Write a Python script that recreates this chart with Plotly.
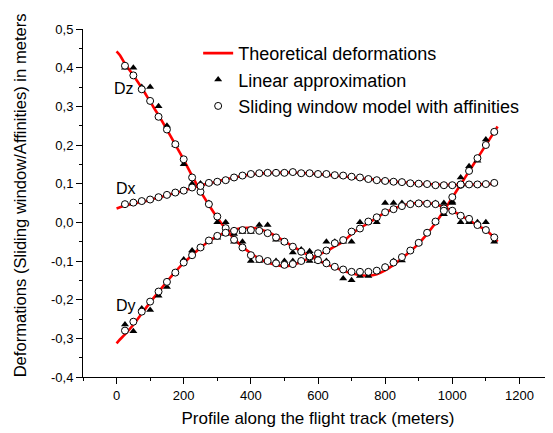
import plotly.graph_objects as go

# ---------------- data ----------------
x_pts = [25, 50, 75, 100, 125, 150, 175, 200, 225, 250, 275, 300, 325, 350, 375, 400,
         425, 450, 475, 500, 525, 550, 575, 600, 625, 650, 675, 700, 725, 750, 775, 800,
         825, 850, 875, 900, 925, 950, 975, 1000, 1025, 1050, 1075, 1100, 1125]

x_theo = [0, 10, 25, 50, 75, 100, 125, 150, 175, 200, 225, 250, 275, 300, 325, 350, 375, 400,
          425, 450, 475, 500, 525, 550, 575, 600, 625, 650, 675, 700, 725, 750, 775, 800,
          825, 850, 875, 900, 925, 950, 975, 1000, 1025, 1050, 1075, 1100, 1125, 1135]

dz_theo = [0.442, 0.432, 0.41, 0.38, 0.348, 0.312, 0.277, 0.24, 0.201, 0.162, 0.12, 0.08, 0.045,
           0.012, -0.017, -0.042, -0.063, -0.08, -0.094, -0.104, -0.11, -0.113, -0.11, -0.102,
           -0.092, -0.084, -0.075, -0.062, -0.05, -0.03, -0.015, -0.002, 0.012, 0.025, 0.035,
           0.043, 0.048, 0.05, 0.05, 0.046, 0.039, 0.03, 0.018, 0.006, -0.008, -0.02, -0.04, -0.05]
dx_theo = [0.036, 0.039, 0.043, 0.048, 0.053, 0.058, 0.064, 0.07, 0.076, 0.082, 0.089, 0.095, 0.101,
           0.106, 0.111, 0.116, 0.12, 0.124, 0.126, 0.128, 0.129, 0.129, 0.129, 0.128, 0.127,
           0.125, 0.123, 0.121, 0.119, 0.117, 0.114, 0.112, 0.11, 0.108, 0.106, 0.104, 0.102,
           0.1, 0.099, 0.098, 0.097, 0.097, 0.097, 0.098, 0.098, 0.099, 0.1, 0.1]
dy_theo = [-0.313, -0.303, -0.29, -0.265, -0.236, -0.207, -0.18, -0.153, -0.128, -0.105, -0.085,
           -0.066, -0.049, -0.036, -0.026, -0.019, -0.015, -0.014, -0.017, -0.025, -0.036, -0.049,
           -0.062, -0.075, -0.087, -0.098, -0.108, -0.117, -0.125, -0.132, -0.137, -0.138, -0.134,
           -0.124, -0.11, -0.093, -0.075, -0.055, -0.03, -0.002, 0.03, 0.064, 0.098, 0.132, 0.166,
           0.2, 0.234, 0.248]

dz_lin = [0.40, 0.40, 0.35, 0.35, 0.30, 0.25, 0.20, 0.15, 0.10, 0.10, 0.05, 0.0, 0.0, -0.05, -0.05,
          -0.10, -0.10, -0.10, -0.10, -0.10, -0.10, -0.10, -0.10, -0.10, -0.05, -0.05, -0.05,
          -0.05, 0.0, 0.0, 0.0, 0.05, 0.05, 0.05, 0.05, 0.05, 0.05, 0.05, 0.05, 0.05, 0.0, 0.0,
          0.0, 0.0, -0.05]
dx_lin = [0.047, 0.051, 0.055, 0.059, 0.065, 0.071, 0.077, 0.082, 0.090, 0.100, 0.102, 0.105, 0.109,
          0.116, 0.121, 0.125, 0.127, 0.128, 0.128, 0.128, 0.130, 0.127, 0.127, 0.125, 0.125,
          0.122, 0.121, 0.118, 0.116, 0.112, 0.109, 0.107, 0.105, 0.104, 0.101, 0.100, 0.099,
          0.096, 0.096, 0.096, 0.097, 0.098, 0.098, 0.099, 0.102]
dy_lin = [-0.264, -0.282, -0.223, -0.227, -0.190, -0.167, -0.130, -0.096, -0.073, -0.065, -0.050,
          -0.040, -0.030, -0.030, -0.025, -0.025, -0.007, -0.007, -0.045, -0.050, -0.078, -0.070,
          -0.075, -0.100, -0.100, -0.115, -0.145, -0.150, -0.139, -0.139, -0.125, -0.115, -0.100,
          -0.099, -0.073, -0.053, -0.027, 0.0, 0.021, 0.053, 0.116, 0.145, 0.159, 0.214, 0.234]

dz_sw = [0.405, 0.380, 0.344, 0.314, 0.273, 0.240, 0.202, 0.163, 0.116, 0.079, 0.047, 0.015, -0.015,
         -0.045, -0.065, -0.085, -0.095, -0.100, -0.106, -0.110, -0.108, -0.100, -0.090, -0.080,
         -0.073, -0.054, -0.046, -0.024, -0.016, 0.002, 0.013, 0.026, 0.034, 0.042, 0.047, 0.049,
         0.048, 0.047, 0.036, 0.030, 0.017, 0.009, -0.007, -0.020, -0.039]
dx_sw = [0.047, 0.051, 0.055, 0.059, 0.065, 0.071, 0.077, 0.082, 0.090, 0.094, 0.102, 0.105, 0.109,
         0.116, 0.121, 0.125, 0.127, 0.128, 0.128, 0.128, 0.130, 0.127, 0.127, 0.125, 0.125,
         0.122, 0.121, 0.118, 0.116, 0.112, 0.109, 0.107, 0.105, 0.104, 0.101, 0.100, 0.099,
         0.096, 0.096, 0.096, 0.097, 0.098, 0.098, 0.099, 0.102]
dy_sw = [-0.280, -0.257, -0.231, -0.205, -0.179, -0.154, -0.130, -0.104, -0.085, -0.065, -0.047,
         -0.035, -0.027, -0.022, -0.020, -0.020, -0.022, -0.028, -0.039, -0.050, -0.063, -0.076,
         -0.088, -0.098, -0.106, -0.115, -0.122, -0.128, -0.128, -0.128, -0.125, -0.116, -0.104,
         -0.090, -0.073, -0.053, -0.027, 0.002, 0.030, 0.065, 0.098, 0.133, 0.166, 0.200, 0.234]

x_ticks = [0, 200, 400, 600, 800, 1000, 1200]
y_ticks = [-0.4, -0.3, -0.2, -0.1, 0.0, 0.1, 0.2, 0.3, 0.4, 0.5]
y_tick_text = ["-0,4", "-0,3", "-0,2", "-0,1", "0,0", "0,1", "0,2", "0,3", "0,4", "0,5"]

curve_labels = ["Dz", "Dx", "Dy"]
label_x = [22, 27, 27]
label_y = [0.347, 0.087, -0.214]

# ---------------- figure ----------------
# (the page body has an 8px default margin, so the figure is 8px smaller in each direction)
FONT = "Liberation Sans, Arial, sans-serif"
RED = "#ff0000"
fig = go.Figure()

for i, yv in enumerate([dz_theo, dx_theo, dy_theo]):
    fig.add_trace(go.Scatter(
        x=x_theo, y=yv, mode="lines", line=dict(color=RED, width=2.6, shape="spline", smoothing=0.6),
        name="Theoretical deformations", legendgroup="theo", showlegend=(i == 0)))

for i, yv in enumerate([dz_lin, dx_lin, dy_lin]):
    fig.add_trace(go.Scatter(
        x=x_pts, y=yv, mode="markers",
        marker=dict(symbol="triangle-up", size=7, color="black", line=dict(width=0)),
        name="Linear approximation", legendgroup="lin", showlegend=(i == 0)))

for i, yv in enumerate([dz_sw, dx_sw, dy_sw]):
    fig.add_trace(go.Scatter(
        x=x_pts, y=yv, mode="markers",
        marker=dict(symbol="circle", size=7, color="white", line=dict(width=1, color="black")),
        name="Sliding window model with affinities", legendgroup="sw", showlegend=(i == 0)))

for t, lx, ly in zip(curve_labels, label_x, label_y):
    fig.add_annotation(x=lx, y=ly, text=t, showarrow=False, xanchor="center", yanchor="middle",
                       font=dict(family=FONT, size=16, color="black"))

# y-axis title placed as a rotated annotation (sits slightly above the plot centre)
fig.add_annotation(xref="paper", yref="paper", x=-0.134, y=0.522,
                   text="Deformations (Sliding window/Affinities) in meters",
                   textangle=-90, showarrow=False, xanchor="center", yanchor="middle",
                   font=dict(family=FONT, size=16.6, color="black"))

axis_common = dict(showline=True, linecolor="black", linewidth=1, ticks="outside", ticklen=6,
                   tickwidth=1, tickcolor="black", showgrid=False, zeroline=False, mirror=False,
                   tickfont=dict(family=FONT, size=13, color="black"))

fig.update_xaxes(range=[-100, 1300], tickvals=x_ticks,
                 minor=dict(dtick=100, tick0=0, ticks="outside", ticklen=3, tickcolor="black", showgrid=False),
                 title=dict(text="Profile along the flight track (meters)",
                            font=dict(family=FONT, size=17, color="black"), standoff=10),
                 **axis_common)
fig.update_yaxes(range=[-0.4, 0.5], tickvals=y_ticks, ticktext=y_tick_text,
                 minor=dict(dtick=0.05, tick0=0, ticks="outside", ticklen=3, tickcolor="black", showgrid=False),
                 **axis_common)

fig.update_layout(
    width=545, height=425,
    margin=dict(l=75, r=0, t=21, b=56, autoexpand=False),
    paper_bgcolor="white", plot_bgcolor="white",
    font=dict(family=FONT, color="black"),
    legend=dict(x=0.245, y=0.983, xanchor="left", yanchor="top", bgcolor="rgba(0,0,0,0)",
                font=dict(family=FONT, size=18, color="black"), tracegroupgap=0, borderwidth=0),
)

fig.write_html("out.html")
